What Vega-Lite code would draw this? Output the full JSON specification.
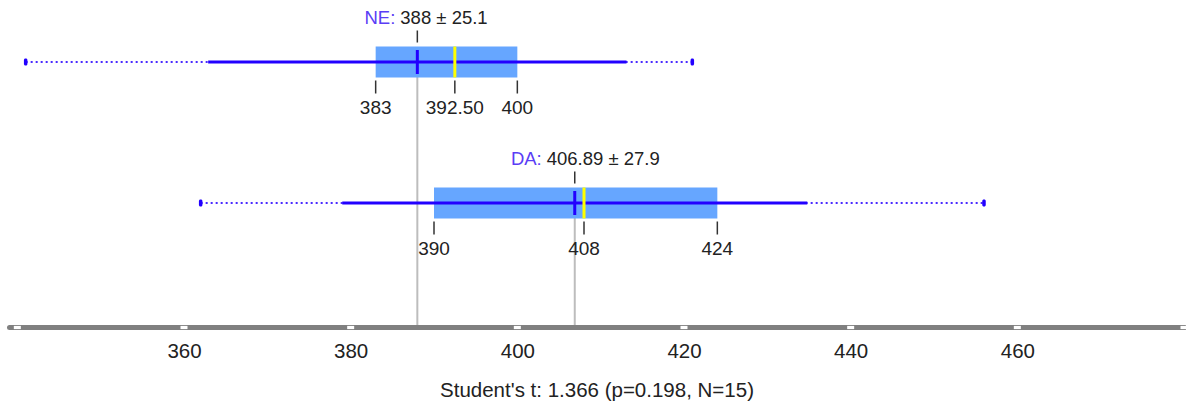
{
  "$schema": "https://vega.github.io/schema/vega-lite/v6.json",
  "width": 1175,
  "height": 327,
  "autosize": "none",
  "padding": {"left": 9, "top": 0, "right": 2, "bottom": 80},
  "background": "white",
  "config": {"view": {"stroke": null}, "font": "Liberation Sans"},
  "datasets": {
    "rows": [
      {"group": "NE", "lo": 362.9, "hi": 413.1, "min": 341, "max": 421, "q1": 383, "median": 392.5, "q3": 400, "mean": 388, "prefix": "NE:", "stat": "388 ± 25.1"},
      {"group": "DA", "lo": 378.99, "hi": 434.79, "min": 362, "max": 456, "q1": 390, "median": 408, "q3": 424, "mean": 406.89, "prefix": "DA:", "stat": "406.89 ± 27.9"}
    ],
    "labels": [
      {"group": "NE", "value": 383, "text": "383"},
      {"group": "NE", "value": 392.5, "text": "392.50"},
      {"group": "NE", "value": 400, "text": "400"},
      {"group": "DA", "value": 390, "text": "390"},
      {"group": "DA", "value": 408, "text": "408"},
      {"group": "DA", "value": 424, "text": "424"}
    ],
    "axisTicks": [
      {"value": 340}, {"value": 360}, {"value": 380}, {"value": 400},
      {"value": 420}, {"value": 440}, {"value": 460}, {"value": 480}
    ]
  },
  "data": {"name": "rows"},
  "layer": [
    {
      "mark": {"type": "rule", "color": "#bdbdbd", "strokeWidth": 2},
      "encoding": {
        "x": {"field": "mean", "type": "quantitative", "scale": {"domain": [339, 480], "nice": false, "zero": false},
          "axis": {
            "title": "Student's t: 1.366 (p=0.198, N=15)",
            "values": [340, 360, 380, 400, 420, 440, 460, 480],
            "labelExpr": "datum.value == 340 || datum.value == 480 ? '' : datum.label",
            "grid": false,
            "zindex": 0,
            "domainColor": "#808080",
            "domainWidth": 5,
            "domainCap": "round",
            "ticks": false,
            "labelPadding": 14,
            "labelFontSize": 20.5,
            "labelColor": "#222222",
            "labelFont": "Liberation Sans",
            "titleFont": "Liberation Sans",
            "titleFontSize": 20.5,
            "titleFontWeight": "normal",
            "titleColor": "#222222",
            "titlePadding": 19
          }
        },
        "y": {"field": "group", "type": "nominal", "axis": null, "scale": {"type": "point", "domain": ["NE", "DA"], "range": [62, 203], "padding": 0}},
        "y2": {"value": {"expr": "height - 2"}}
      }
    },
    {
      "data": {"name": "axisTicks"},
      "mark": {"type": "tick", "color": "white", "size": 3.2, "thickness": 7, "opacity": 1},
      "encoding": {
        "x": {"field": "value", "type": "quantitative"},
        "y": {"value": {"expr": "height + 0.5"}}
      }
    },
    {
      "mark": {"type": "rule", "color": "#4a2bff", "strokeWidth": 2, "strokeDash": [2, 3]},
      "encoding": {"x": {"field": "min", "type": "quantitative"}, "x2": {"field": "max"}, "y": {"field": "group", "type": "nominal"}}
    },
    {
      "mark": {"type": "bar", "color": "#66a6ff", "size": 31},
      "encoding": {"x": {"field": "q1", "type": "quantitative"}, "x2": {"field": "q3"}, "y": {"field": "group", "type": "nominal"}}
    },
    {
      "mark": {"type": "rule", "color": "#2200ff", "strokeWidth": 3},
      "encoding": {"x": {"field": "lo", "type": "quantitative"}, "x2": {"field": "hi"}, "y": {"field": "group", "type": "nominal"}}
    },
    {
      "mark": {"type": "tick", "color": "#2200ff", "size": 7, "thickness": 3.5, "cornerRadius": 1.5, "opacity": 1},
      "encoding": {"x": {"field": "min", "type": "quantitative"}, "y": {"field": "group", "type": "nominal"}}
    },
    {
      "mark": {"type": "tick", "color": "#2200ff", "size": 7, "thickness": 3.5, "cornerRadius": 1.5, "opacity": 1},
      "encoding": {"x": {"field": "max", "type": "quantitative"}, "y": {"field": "group", "type": "nominal"}}
    },
    {
      "mark": {"type": "tick", "color": "#2200ff", "size": 24, "thickness": 3, "opacity": 1},
      "encoding": {"x": {"field": "mean", "type": "quantitative"}, "y": {"field": "group", "type": "nominal"}}
    },
    {
      "mark": {"type": "tick", "color": "#ffff00", "size": 31, "thickness": 3, "opacity": 1},
      "encoding": {"x": {"field": "median", "type": "quantitative"}, "y": {"field": "group", "type": "nominal"}}
    },
    {
      "mark": {"type": "tick", "color": "#333333", "size": 12, "thickness": 1.5, "yOffset": -25.5, "opacity": 1},
      "encoding": {"x": {"field": "mean", "type": "quantitative"}, "y": {"field": "group", "type": "nominal"}}
    },
    {
      "data": {"name": "labels"},
      "mark": {"type": "tick", "color": "#333333", "size": 13, "thickness": 1.5, "yOffset": 25, "opacity": 1},
      "encoding": {"x": {"field": "value", "type": "quantitative"}, "y": {"field": "group", "type": "nominal"}}
    },
    {
      "data": {"name": "labels"},
      "mark": {"type": "text", "fontSize": 19, "color": "#222222", "baseline": "middle", "align": "center", "yOffset": 46, "font": "Liberation Sans"},
      "encoding": {"x": {"field": "value", "type": "quantitative"}, "y": {"field": "group", "type": "nominal"}, "text": {"field": "text"}}
    },
    {
      "transform": [{"filter": "datum.group == 'NE'"}],
      "mark": {"type": "text", "fontSize": 18.5, "color": "#5a3df5", "baseline": "middle", "align": "right", "dx": -22, "yOffset": -44, "font": "Liberation Sans"},
      "encoding": {"x": {"field": "mean", "type": "quantitative"}, "y": {"field": "group", "type": "nominal"}, "text": {"field": "prefix"}}
    },
    {
      "transform": [{"filter": "datum.group == 'NE'"}],
      "mark": {"type": "text", "fontSize": 18.5, "color": "#222222", "baseline": "middle", "align": "left", "dx": -17, "yOffset": -44, "font": "Liberation Sans"},
      "encoding": {"x": {"field": "mean", "type": "quantitative"}, "y": {"field": "group", "type": "nominal"}, "text": {"field": "stat"}}
    },
    {
      "transform": [{"filter": "datum.group == 'DA'"}],
      "mark": {"type": "text", "fontSize": 18.5, "color": "#5a3df5", "baseline": "middle", "align": "right", "dx": -33, "yOffset": -44, "font": "Liberation Sans"},
      "encoding": {"x": {"field": "mean", "type": "quantitative"}, "y": {"field": "group", "type": "nominal"}, "text": {"field": "prefix"}}
    },
    {
      "transform": [{"filter": "datum.group == 'DA'"}],
      "mark": {"type": "text", "fontSize": 18.5, "color": "#222222", "baseline": "middle", "align": "left", "dx": -28, "yOffset": -44, "font": "Liberation Sans"},
      "encoding": {"x": {"field": "mean", "type": "quantitative"}, "y": {"field": "group", "type": "nominal"}, "text": {"field": "stat"}}
    }
  ]
}
